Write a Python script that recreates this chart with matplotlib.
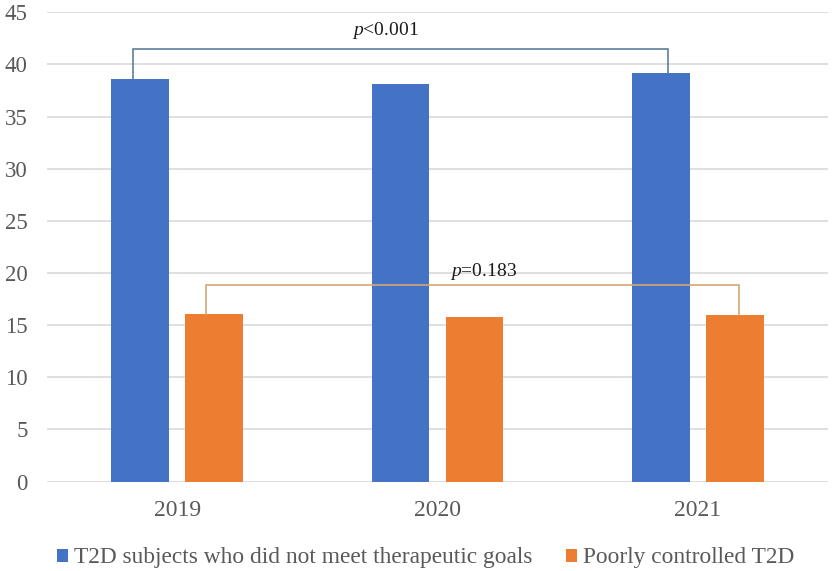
import numpy as np
import matplotlib
matplotlib.use("Agg")
import matplotlib.pyplot as plt

plt.rcParams['font.family'] = ['Liberation Serif', 'DejaVu Serif']
plt.rcParams['mathtext.fontset'] = 'custom'
plt.rcParams['mathtext.rm'] = 'Liberation Serif'
plt.rcParams['mathtext.it'] = 'Liberation Serif:italic'

years = ['2019', '2020', '2021']
not_met_goals = [38.6, 38.1, 39.2]
poorly_controlled = [16.1, 15.8, 15.95]
labels = ['T2D subjects who did not meet therapeutic goals', 'Poorly controlled T2D']
p_texts = [r'$\it{p}$<0.001', r'$\it{p}$=0.183']

BLUE = '#4472C4'
ORANGE = '#ED7D31'
TICK_COLOR = '#595959'
GRID_COLOR = '#D9D9D9'

fig = plt.figure(figsize=(8.35, 5.71), dpi=100)
ax = fig.add_axes([47 / 835, 1 - 481.5 / 571, (828 - 47) / 835, (481.5 - 12.3) / 571])

x = np.arange(len(years))
width = 0.221
off = 0.142
ax.bar(x - off, not_met_goals, width, color=BLUE, label=labels[0], zorder=3)
ax.bar(x + off, poorly_controlled, width, color=ORANGE, label=labels[1], zorder=3)

ax.set_xlim(-0.5, 2.5)
ax.set_ylim(0, 45)
ax.set_yticks(range(0, 46, 5))
ax.set_xticks(x)
ax.set_xticklabels(years)
ax.yaxis.grid(True, color=GRID_COLOR, linewidth=1.2, zorder=0)
for s in ['top', 'right', 'left', 'bottom']:
    ax.spines[s].set_visible(False)
ax.tick_params(axis='both', length=0, colors=TICK_COLOR)
ax.tick_params(axis='x', pad=13, labelsize=17)
ax.tick_params(axis='y', pad=14, labelsize=16.5)

# significance brackets
def bracket(x0, x1, y0, y1, top, color):
    ax.plot([x0, x0, x1, x1], [y0, top, top, y1], color=color, linewidth=1.2, zorder=4,
            solid_joinstyle='miter')

bracket(0 - 0.169, 2 - 0.114, not_met_goals[0], not_met_goals[2], 41.5, '#5E7E9C')
bracket(0 + 0.111, 2 + 0.157, poorly_controlled[0], poorly_controlled[2], 18.8, '#D3A674')

ax.text(0.80, 43.3, p_texts[0], ha='center', va='center', fontsize=14, color='#1a1a1a')
ax.text(1.178, 20.1, p_texts[1], ha='center', va='center', fontsize=14, color='#1a1a1a')

fig.legend(loc='center', bbox_to_anchor=(0.51, 0.023), ncol=2, frameon=False,
           fontsize=16.8, handlelength=0.48, handleheight=0.48, handletextpad=0.26,
           columnspacing=1.44, labelcolor=TICK_COLOR)

fig.savefig('out.png', dpi=100)
